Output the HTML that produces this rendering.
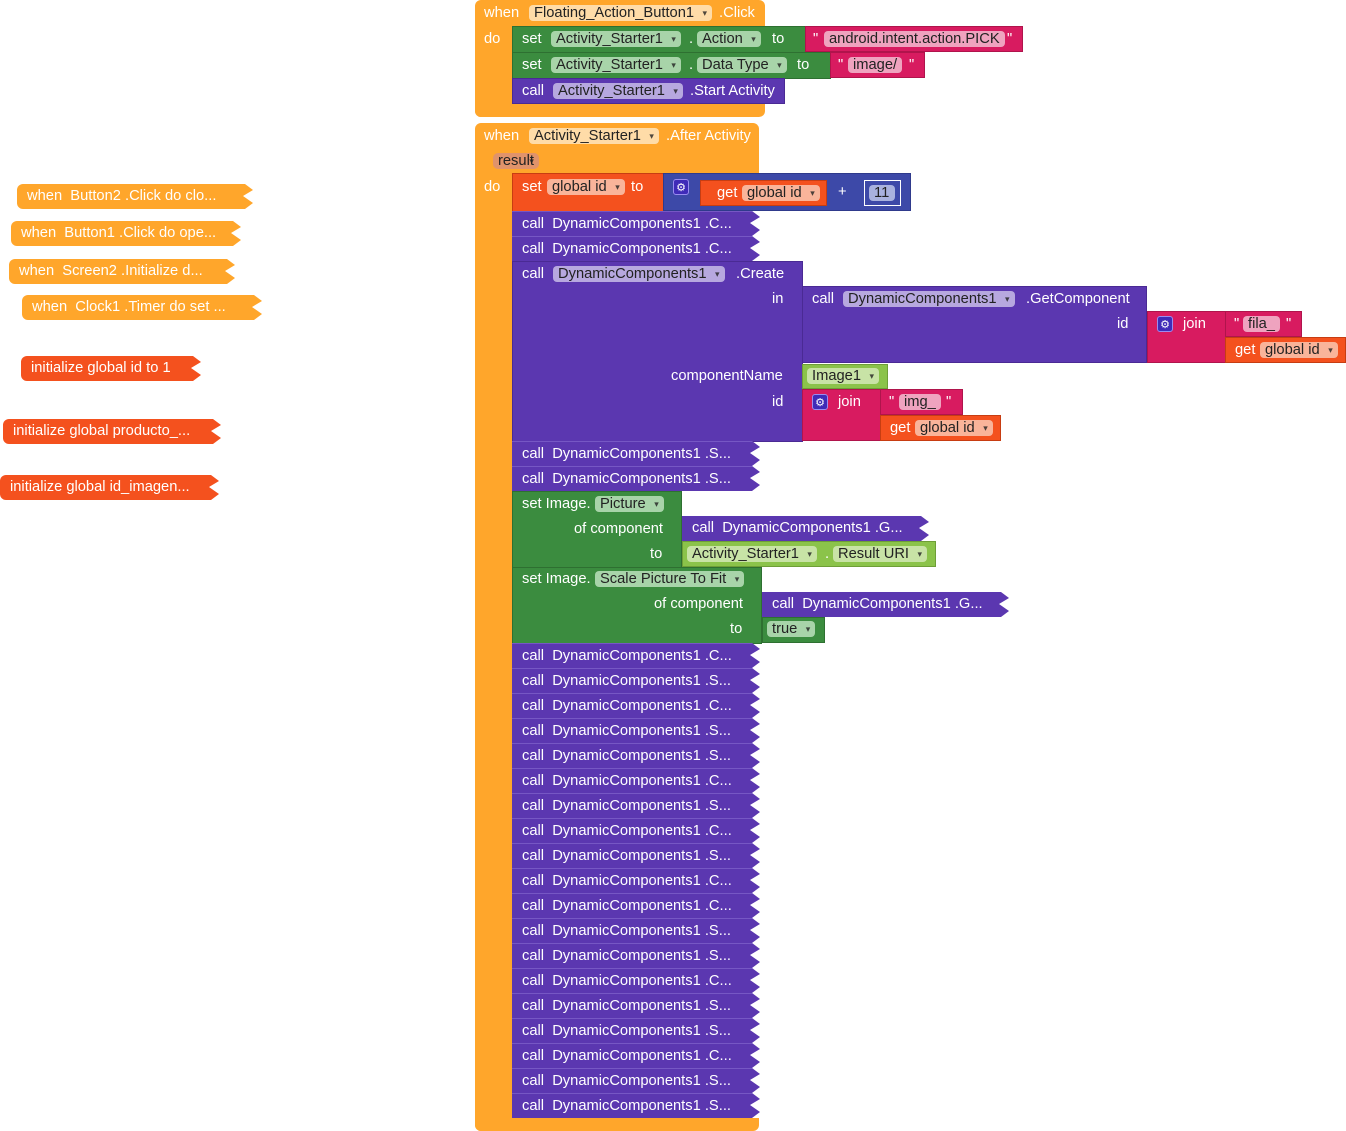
<!DOCTYPE html>
<html><head><meta charset="utf-8">
<style>
body{margin:0;width:1346px;height:1131px;background:#fff;position:relative;overflow:hidden;font-family:"Liberation Sans",sans-serif;font-size:14.7px;color:#fff}
.a{position:absolute;box-sizing:border-box}
.t{position:absolute;white-space:nowrap;line-height:16px}
.ev{background:#ffa62b}
.gr{background:#3b8c3f;border:1px solid #2e7031}
.pk{background:#d81b60;border:1px solid #b0144c}
.pu{background:#5b37b0;border:1px solid #4a2a94}
.bl{background:#3d49a8;border:1px solid #2f3a8c}
.or{background:#f4511e;border:1px solid #c73d12}
.lg{background:#8bc34a;border:1px solid #6e9e37}
.f{position:absolute;border-radius:4px;padding:0 18px 0 5px;line-height:16px;color:#222;white-space:nowrap}
.f::after{content:"▾";position:absolute;right:5px;top:0;font-size:9px;color:inherit;opacity:.8}
.fg{background:#a8d4a9}.fp{background:#b7a8df}.fo{background:#f9b49a}.fe{background:#ffdca8}.fk{background:#efa3bf;padding-right:5px}.fk::after{content:""}.fl{background:#c8e3a6}
.fb{background:#a9b2de;padding-right:6px}.fb::after{content:""}
.call{position:absolute;left:512px;width:248px;height:25px;background:#5b37b0;clip-path:polygon(0 0,240px 0,248px 6px,238px 12px,248px 19px,240px 25px,0 25px);border-top:1px solid #7657c4}
.call span{position:absolute;left:10px;top:4px;white-space:nowrap}
.col{position:absolute;height:25px;clip-path:polygon(0 0,calc(100% - 8px) 0,100% 6px,calc(100% - 10px) 12px,100% 19px,calc(100% - 8px) 25px,0 25px);border-radius:6px 0 0 6px}
.col span{position:absolute;left:10px;top:4px;white-space:nowrap}
.gear{position:absolute;width:16px;height:16px;background:#3f2bb8;border:1px solid #9a8cf0;border-radius:3px;color:#fff;font-size:11px;line-height:16px;text-align:center;box-sizing:border-box}
</style></head><body>

<div class="col ev" style="left:17px;top:184px;width:236px;"><span>when &nbsp;Button2 .Click do clo...</span></div>
<div class="col ev" style="left:11px;top:221px;width:230px;"><span>when &nbsp;Button1 .Click do ope...</span></div>
<div class="col ev" style="left:9px;top:259px;width:226px;"><span>when &nbsp;Screen2 .Initialize d...</span></div>
<div class="col ev" style="left:22px;top:295px;width:240px;"><span>when &nbsp;Clock1 .Timer do set ...</span></div>
<div class="col" style="left:21px;top:356px;width:180px;background:#f4511e"><span>initialize global id to 1</span></div>
<div class="col" style="left:3px;top:419px;width:218px;background:#f4511e"><span>initialize global producto_...</span></div>
<div class="col" style="left:0px;top:475px;width:219px;background:#f4511e"><span>initialize global id_imagen...</span></div>

<!-- Event 1 -->
<div class="a ev" style="left:475px;top:0;width:290px;height:26px;border-radius:6px 6px 0 0"></div>
<div class="a ev" style="left:475px;top:26px;width:37px;height:91px;border-radius:0 0 0 6px"></div>
<div class="a ev" style="left:475px;top:104px;width:290px;height:13px;border-radius:0 0 6px 6px"></div>
<span class="t" style="left:484px;top:5px">when</span>
<span class="f fe" style="left:529px;top:5px">Floating_Action_Button1</span>
<span class="t" style="left:719px;top:5px">.Click</span>
<span class="t" style="left:484px;top:31px">do</span>

<div class="a gr" style="left:512px;top:26px;width:294px;height:27px"></div>
<span class="t" style="left:522px;top:31px">set</span>
<span class="f fg" style="left:551px;top:31px">Activity_Starter1</span>
<span class="t" style="left:689px;top:31px">.</span>
<span class="f fg" style="left:697px;top:31px">Action</span>
<span class="t" style="left:772px;top:31px">to</span>
<div class="a pk" style="left:805px;top:26px;width:218px;height:26px"></div>
<span class="t" style="left:813px;top:31px">"</span>
<span class="f fk" style="left:824px;top:31px">android.intent.action.PICK</span>
<span class="t" style="left:1007px;top:31px">"</span>

<div class="a gr" style="left:512px;top:52px;width:319px;height:27px"></div>
<span class="t" style="left:522px;top:57px">set</span>
<span class="f fg" style="left:551px;top:57px">Activity_Starter1</span>
<span class="t" style="left:689px;top:57px">.</span>
<span class="f fg" style="left:697px;top:57px">Data Type</span>
<span class="t" style="left:797px;top:57px">to</span>
<div class="a pk" style="left:830px;top:52px;width:95px;height:26px"></div>
<span class="t" style="left:838px;top:57px">"</span>
<span class="f fk" style="left:848px;top:57px">image/</span>
<span class="t" style="left:909px;top:57px">"</span>

<div class="a pu" style="left:512px;top:78px;width:273px;height:26px"></div>
<span class="t" style="left:522px;top:83px">call</span>
<span class="f fp" style="left:553px;top:83px">Activity_Starter1</span>
<span class="t" style="left:690px;top:83px">.Start Activity</span>

<!-- Event 2 -->
<div class="a ev" style="left:475px;top:123px;width:284px;height:50px;border-radius:6px 6px 0 0"></div>
<div class="a ev" style="left:475px;top:173px;width:37px;height:958px;border-radius:0 0 0 6px"></div>
<div class="a ev" style="left:475px;top:1118px;width:284px;height:13px;border-radius:0 0 6px 6px"></div>
<span class="t" style="left:484px;top:128px">when</span>
<span class="f fe" style="left:529px;top:128px">Activity_Starter1</span>
<span class="t" style="left:666px;top:128px">.After Activity</span>
<span class="f" style="left:493px;top:153px;background:#e0936b;padding-right:5px;border-radius:5px">result</span>
<span class="t" style="left:484px;top:179px">do</span>

<div class="a or" style="left:512px;top:173px;width:152px;height:39px"></div>
<span class="t" style="left:522px;top:179px">set</span>
<span class="f fo" style="left:547px;top:179px">global id</span>
<span class="t" style="left:631px;top:179px">to</span>
<div class="a bl" style="left:663px;top:173px;width:248px;height:38px"></div>
<div class="gear" style="left:673px;top:179px">⚙</div>
<div class="a or" style="left:700px;top:180px;width:127px;height:26px"></div>
<span class="t" style="left:717px;top:185px">get</span>
<span class="f fo" style="left:742px;top:185px">global id</span>
<span class="t" style="left:838px;top:184px">+</span>
<div class="a bl" style="left:864px;top:180px;width:37px;height:26px;border-color:#fff"></div>
<span class="f fb" style="left:869px;top:185px">11</span>

<div class="call" style="top:211px"><span>call &nbsp;DynamicComponents1 .C...</span></div>
<div class="call" style="top:236px"><span>call &nbsp;DynamicComponents1 .C...</span></div>

<div class="a pu" style="left:512px;top:261px;width:291px;height:181px"></div>
<span class="t" style="left:522px;top:266px">call</span>
<span class="f fp" style="left:553px;top:266px">DynamicComponents1</span>
<span class="t" style="left:736px;top:266px">.Create</span>
<span class="t" style="left:772px;top:291px">in</span>
<div class="a pu" style="left:802px;top:286px;width:345px;height:77px"></div>
<span class="t" style="left:812px;top:291px">call</span>
<span class="f fp" style="left:843px;top:291px">DynamicComponents1</span>
<span class="t" style="left:1026px;top:291px">.GetComponent</span>
<span class="t" style="left:1117px;top:316px">id</span>
<div class="a pk" style="left:1147px;top:311px;width:79px;height:52px"></div>
<div class="gear" style="left:1157px;top:316px">⚙</div>
<span class="t" style="left:1183px;top:316px">join</span>
<div class="a pk" style="left:1225px;top:311px;width:77px;height:26px"></div>
<span class="t" style="left:1234px;top:316px">"</span>
<span class="f fk" style="left:1243px;top:316px">fila_</span>
<span class="t" style="left:1286px;top:316px">"</span>
<div class="a or" style="left:1225px;top:337px;width:121px;height:26px"></div>
<span class="t" style="left:1235px;top:342px">get</span>
<span class="f fo" style="left:1260px;top:342px">global id</span>
<span class="t" style="left:671px;top:368px">componentName</span>
<div class="a lg" style="left:802px;top:364px;width:86px;height:25px"></div>
<span class="f fl" style="left:807px;top:368px">Image1</span>
<span class="t" style="left:772px;top:394px">id</span>
<div class="a pk" style="left:802px;top:389px;width:79px;height:52px"></div>
<div class="gear" style="left:812px;top:394px">⚙</div>
<span class="t" style="left:838px;top:394px">join</span>
<div class="a pk" style="left:880px;top:389px;width:83px;height:26px"></div>
<span class="t" style="left:889px;top:394px">"</span>
<span class="f fk" style="left:899px;top:394px">img_</span>
<span class="t" style="left:946px;top:394px">"</span>
<div class="a or" style="left:880px;top:415px;width:121px;height:26px"></div>
<span class="t" style="left:890px;top:420px">get</span>
<span class="f fo" style="left:915px;top:420px">global id</span>

<div class="call" style="top:441px"><span>call &nbsp;DynamicComponents1 .S...</span></div>
<div class="call" style="top:466px"><span>call &nbsp;DynamicComponents1 .S...</span></div>

<div class="a gr" style="left:512px;top:491px;width:170px;height:77px"></div>
<span class="t" style="left:522px;top:496px">set Image.</span>
<span class="f fg" style="left:595px;top:496px">Picture</span>
<span class="t" style="left:574px;top:521px">of component</span>
<span class="t" style="left:650px;top:546px">to</span>
<div class="col" style="left:682px;top:516px;width:247px;background:#5b37b0;border-radius:0"><span>call &nbsp;DynamicComponents1 .G...</span></div>
<div class="a lg" style="left:682px;top:541px;width:254px;height:26px"></div>
<span class="f fl" style="left:687px;top:546px">Activity_Starter1</span>
<span class="t" style="left:825px;top:546px">.</span>
<span class="f fl" style="left:833px;top:546px">Result URI</span>

<div class="a gr" style="left:512px;top:567px;width:250px;height:77px"></div>
<span class="t" style="left:522px;top:571px">set Image.</span>
<span class="f fg" style="left:595px;top:571px">Scale Picture To Fit</span>
<span class="t" style="left:654px;top:596px">of component</span>
<span class="t" style="left:730px;top:621px">to</span>
<div class="col" style="left:762px;top:592px;width:247px;background:#5b37b0;border-radius:0"><span>call &nbsp;DynamicComponents1 .G...</span></div>
<div class="a gr" style="left:762px;top:617px;width:63px;height:26px"></div>
<span class="f fg" style="left:767px;top:621px">true</span>

<div class="call" style="top:643px"><span>call &nbsp;DynamicComponents1 .C...</span></div>
<div class="call" style="top:668px"><span>call &nbsp;DynamicComponents1 .S...</span></div>
<div class="call" style="top:693px"><span>call &nbsp;DynamicComponents1 .C...</span></div>
<div class="call" style="top:718px"><span>call &nbsp;DynamicComponents1 .S...</span></div>
<div class="call" style="top:743px"><span>call &nbsp;DynamicComponents1 .S...</span></div>
<div class="call" style="top:768px"><span>call &nbsp;DynamicComponents1 .C...</span></div>
<div class="call" style="top:793px"><span>call &nbsp;DynamicComponents1 .S...</span></div>
<div class="call" style="top:818px"><span>call &nbsp;DynamicComponents1 .C...</span></div>
<div class="call" style="top:843px"><span>call &nbsp;DynamicComponents1 .S...</span></div>
<div class="call" style="top:868px"><span>call &nbsp;DynamicComponents1 .C...</span></div>
<div class="call" style="top:893px"><span>call &nbsp;DynamicComponents1 .C...</span></div>
<div class="call" style="top:918px"><span>call &nbsp;DynamicComponents1 .S...</span></div>
<div class="call" style="top:943px"><span>call &nbsp;DynamicComponents1 .S...</span></div>
<div class="call" style="top:968px"><span>call &nbsp;DynamicComponents1 .C...</span></div>
<div class="call" style="top:993px"><span>call &nbsp;DynamicComponents1 .S...</span></div>
<div class="call" style="top:1018px"><span>call &nbsp;DynamicComponents1 .S...</span></div>
<div class="call" style="top:1043px"><span>call &nbsp;DynamicComponents1 .C...</span></div>
<div class="call" style="top:1068px"><span>call &nbsp;DynamicComponents1 .S...</span></div>
<div class="call" style="top:1093px"><span>call &nbsp;DynamicComponents1 .S...</span></div>

</body></html>
